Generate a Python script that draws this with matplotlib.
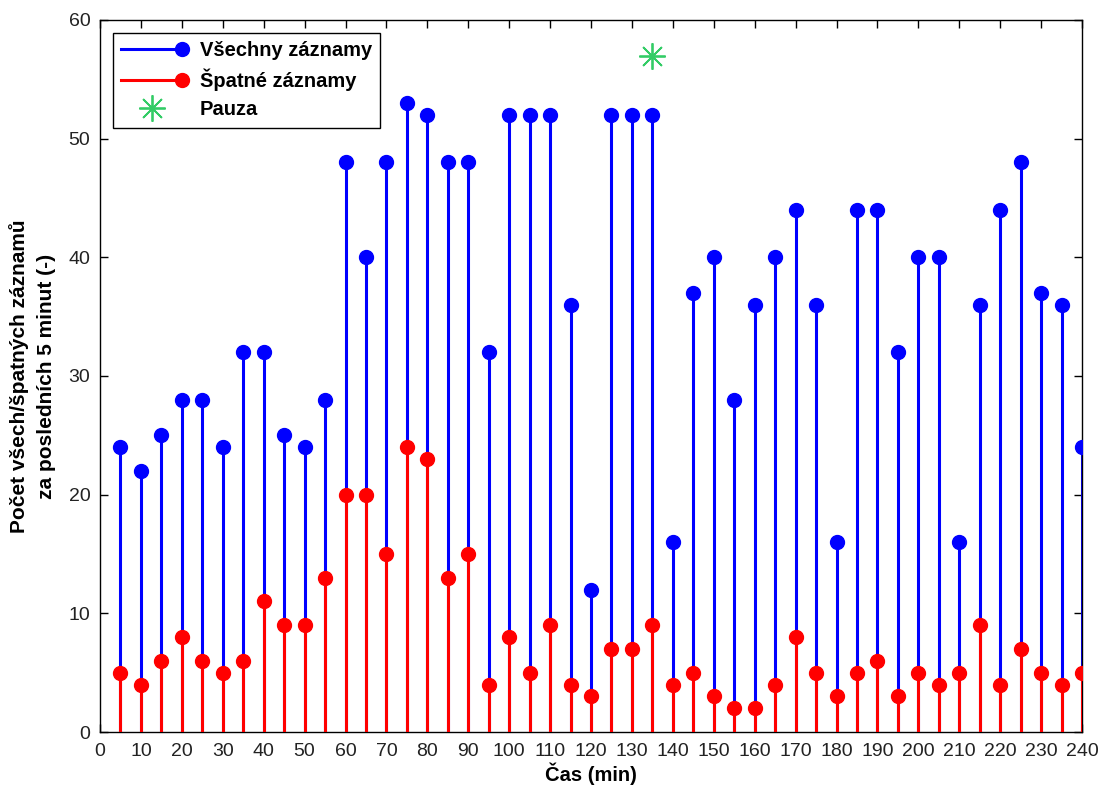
import matplotlib
matplotlib.use("Agg")
import matplotlib.pyplot as plt
from matplotlib.legend_handler import HandlerLine2D
from matplotlib.lines import Line2D

x = list(range(5, 245, 5))
all_rec = [24, 22, 25, 28, 28, 24, 32, 32, 25, 24, 28, 48, 40, 48, 53, 52, 48, 48, 32, 52,
           52, 52, 36, 12, 52, 52, 52, 16, 37, 40, 28, 36, 40, 44, 36, 16, 44, 44, 32, 40,
           40, 16, 36, 44, 48, 37, 36, 24]
bad_rec = [5, 4, 6, 8, 6, 5, 6, 11, 9, 9, 13, 20, 20, 15, 24, 23, 13, 15, 4, 8,
           5, 9, 4, 3, 7, 7, 9, 4, 5, 3, 2, 2, 4, 8, 5, 3, 5, 6, 3, 5,
           4, 5, 9, 4, 7, 5, 4, 5]
pause_x = [135]
pause_y = [57]

plt.rcParams['font.family'] = ['Liberation Sans', 'DejaVu Sans']
fig = plt.figure(figsize=(11.05, 7.89), dpi=100)
ax = fig.add_axes([0.0905, 0.0722, 0.8887, 0.9025])

blue = '#0000ff'
red = '#ff0000'
green = '#33cc66'
lw = 2.2
ms = 10

ax.vlines(x, 0, all_rec, color=blue, lw=lw, zorder=2)
ax.plot(x, all_rec, 'o', color=blue, ms=ms, zorder=3)
ax.vlines(x, 0, bad_rec, color=red, lw=lw, zorder=4)
ax.plot(x, bad_rec, 'o', color=red, ms=ms, zorder=5)
ax.plot(pause_x, pause_y, marker=(8, 2, 0), color=green, ms=19, mew=1.3,
        linestyle='none', zorder=6)


class EndMarkerHandler(HandlerLine2D):
    def create_artists(self, legend, orig_handle, xdescent, ydescent, width, height,
                       fontsize, trans):
        y = height / 2 - ydescent
        line = Line2D([-xdescent, width - xdescent], [y, y], color=orig_handle.get_color(),
                      lw=orig_handle.get_linewidth())
        mk = Line2D([width - xdescent], [y], marker='o', color=orig_handle.get_color(),
                    ms=orig_handle.get_markersize(), linestyle='none')
        line.set_transform(trans)
        mk.set_transform(trans)
        return [line, mk]


h1, = ax.plot([], [], '-o', color=blue, lw=lw, ms=ms)
h2, = ax.plot([], [], '-o', color=red, lw=lw, ms=ms)
h3, = ax.plot([], [], marker=(8, 2, 0), color=green, ms=19, mew=1.3, linestyle='none')
leg = ax.legend([h1, h2, h3], ['Všechny záznamy', 'Špatné záznamy', 'Pauza'],
                loc='upper left', bbox_to_anchor=(0.0135, 0.982), borderaxespad=0,
                fancybox=False, edgecolor='black', framealpha=1, borderpad=0.4,
                handlelength=3.0, handletextpad=0.9, prop={'weight': 'bold', 'size': 14.5},
                labelspacing=0.45,
                handler_map={h1: EndMarkerHandler(), h2: EndMarkerHandler()})
leg.get_frame().set_linewidth(1.0)

ax.set_xlim(0, 240)
ax.set_ylim(0, 60)
ax.set_xticks(range(0, 241, 10))
ax.set_yticks(range(0, 61, 10))
ax.tick_params(direction='in', top=True, right=True, length=6, labelsize=14, width=1,
               labelcolor='#222222')
ax.tick_params(axis='x', pad=8)
ax.tick_params(axis='y', pad=7)
for s in ax.spines.values():
    s.set_linewidth(1.0)

ax.set_xlabel('Čas (min)', fontsize=14.5, fontweight='bold', labelpad=2)
ax.set_ylabel('Počet všech/špatných záznamů\nza posledních 5 minut (-)', fontsize=15,
              fontweight='bold', labelpad=9, linespacing=1.5)

fig.savefig('out.png', dpi=100)
